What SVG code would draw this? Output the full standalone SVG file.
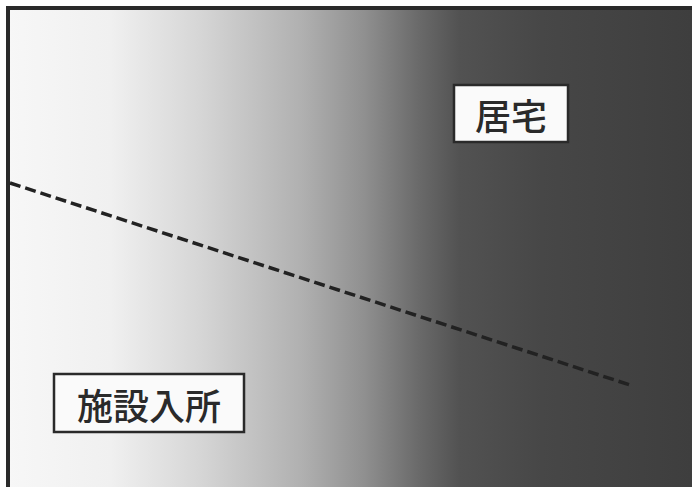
<svg xmlns="http://www.w3.org/2000/svg" width="692" height="487" viewBox="0 0 692 487">
<defs>
<linearGradient id="bg" x1="0" y1="0" x2="1" y2="0">
<stop offset="0" stop-color="#f7f7f7"/>
<stop offset="0.15" stop-color="#f0f0f0"/>
<stop offset="0.28" stop-color="#d6d6d6"/>
<stop offset="0.43" stop-color="#b0b0b0"/>
<stop offset="0.52" stop-color="#909090"/>
<stop offset="0.6" stop-color="#6a6a6a"/>
<stop offset="0.66" stop-color="#525252"/>
<stop offset="0.78" stop-color="#474747"/>
<stop offset="1" stop-color="#3e3e3e"/>
</linearGradient>
<style>
.box{fill:#fafafa;stroke:#2a2a2a;stroke-width:2.5}
.lbl{font-family:"Noto Sans CJK JP","Noto Sans CJK SC",sans-serif;font-size:36px;font-weight:500;fill:#2a2a2a;text-anchor:middle;dominant-baseline:central}
</style>
</defs>
<rect x="0" y="0" width="692" height="487" fill="#ffffff"/>
<rect x="8" y="8" width="684" height="479" fill="url(#bg)"/>
<path d="M8 487 V8 H692" fill="none" stroke="#2a2a2a" stroke-width="4"/>
<g id="connectors">
<line x1="10" y1="183" x2="630" y2="385" stroke="#222" stroke-width="3.5" stroke-dasharray="11 5"/>
</g>
<g id="node-kyotaku">
<rect class="box" x="454" y="85" width="114" height="57"/>
<text class="lbl" x="511" y="114">居宅</text>
</g>
<g id="node-shisetsu">
<rect class="box" x="54" y="374" width="190" height="58"/>
<text class="lbl" x="149" y="404">施設入所</text>
</g>
</svg>
